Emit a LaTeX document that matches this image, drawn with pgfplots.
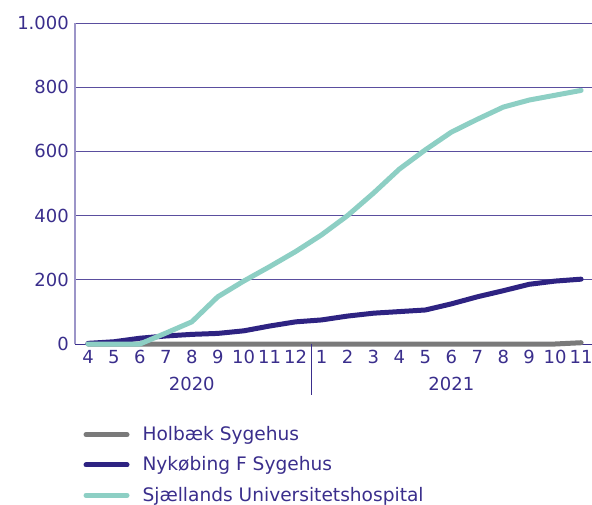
\documentclass[border=0pt]{standalone}
\usepackage{pgfplots}
\pgfplotsset{compat=1.18}
\usepackage{fontspec}
\setmainfont{DejaVu Sans}

\definecolor{txt}{HTML}{3A2E8C}
\definecolor{navy}{HTML}{2E2382}
\definecolor{sus}{HTML}{8DCFC4}
\definecolor{hol}{HTML}{7A7A7A}
\definecolor{gridc}{HTML}{5A4E9E}
\definecolor{yax}{HTML}{9C95C8}

\begin{document}
\fontsize{18}{21}\selectfont
\begin{tikzpicture}
\begin{axis}[
    at={(0pt,0pt)}, anchor=south west,
    scale only axis,
    width=517pt, height=321pt,
    xmin=-0.5, xmax=19.42,
    ymin=0, ymax=1000,
    ytick={0,200,...,1000},
    xtick={0,...,19},
    xticklabels={4,5,6,7,8,9,10,11,12,1,2,3,4,5,6,7,8,9,10,11},
    ymajorgrids,
    major grid style={color=gridc, line width=0.8pt},
    major tick length=0pt,
    axis lines*=left,
    x axis line style={color=txt, line width=0.8pt, -},
    y axis line style={color=yax, line width=1.2pt, -},
    tick label style={color=txt, font=\fontsize{18}{21}\selectfont},
    /pgf/number format/assume math mode=true,
    /pgf/number format/1000 sep={.},
    clip=false,
    legend cell align=left,
    legend image code/.code={\draw[#1, line width=5pt, line cap=round] (0pt,0pt) -- (41pt,0pt);},
    legend style={at={(axis description cs:0.0103,-0.243)}, anchor=north west, draw=none, fill=none,
        font=\fontsize{18.6}{21}\selectfont, text=txt, row sep=9.5pt,
        /tikz/every odd column/.append style={column sep=11pt}},
]
\addplot[hol, line width=5pt, line join=round, line cap=round] coordinates {
    (0,0) (1,0) (2,0) (3,0) (4,0) (5,0) (6,0) (7,0) (8,0) (9,0)
    (10,0) (11,0) (12,0) (13,0) (14,0) (15,0) (16,0) (17,0) (18,0) (19,4)
};
\addlegendentry{Holbæk Sygehus}
\addplot[navy, line width=5pt, line join=round, line cap=round] coordinates {
    (0,2) (1,7) (2,18) (3,25) (4,30) (5,33) (6,41) (7,56) (8,69) (9,75)
    (10,87) (11,96) (12,101) (13,106) (14,125) (15,147) (16,166) (17,186) (18,196) (19,202)
};
\addlegendentry{Nykøbing F Sygehus}
\addplot[sus, line width=5pt, line join=round, line cap=round] coordinates {
    (0,0) (1,0) (2,0) (3,34) (4,69) (5,147) (6,196) (7,241) (8,288) (9,340)
    (10,400) (11,470) (12,545) (13,605) (14,660) (15,700) (16,738) (17,760) (18,775) (19,790)
};
\addlegendentry{Sjællands Universitetshospital}
\draw[txt, line width=0.8pt] (axis cs:8.6,0) -- ++(0pt,-51pt);
\node[text=txt, font=\fontsize{18}{21}\selectfont] at ([yshift=-40pt]axis cs:4,0) {2020};
\node[text=txt, font=\fontsize{18}{21}\selectfont] at ([yshift=-40pt]axis cs:14,0) {2021};
\end{axis}
\pgfresetboundingbox
\useasboundingbox (-75pt,-160pt) rectangle (517pt,344pt);
\end{tikzpicture}
\end{document}
